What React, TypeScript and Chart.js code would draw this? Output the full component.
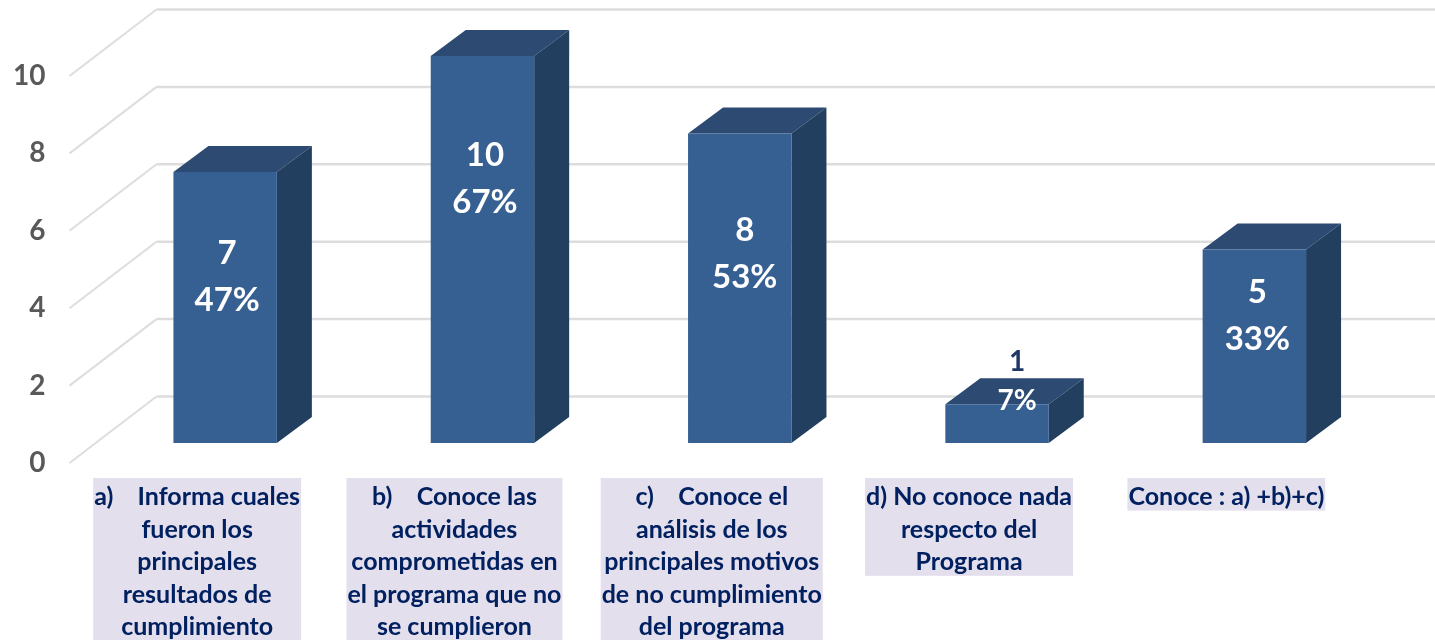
import React, { useEffect, useRef } from "react";
import { Chart, registerables } from "chart.js";

Chart.register(...registerables);

const categories: string[][] = [
  ["a)    Informa cuales", "fueron los", "principales", "resultados de", "cumplimiento"],
  ["b)    Conoce las", "actividades", "comprometidas en", "el programa que no", "se cumplieron"],
  ["c)    Conoce el", "análisis de los", "principales motivos", "de no cumplimiento", "del programa"],
  ["d) No conoce nada", "respecto del", "Programa"],
  ["Conoce : a) +b)+c)"],
];
const counts = [7, 10, 8, 1, 5];
const percents = ["47%", "67%", "53%", "7%", "33%"];
// Height on the value axis where each two-line label is centred
const labelLevels = [4.29, 6.83, 4.9, 1.58, 3.28];
const yTicks = [0, 2, 4, 6, 8, 10];

const FONT = "Lato, Carlito, sans-serif";
const NAVY = "#002060";
const BAR_FRONT = "#376092";
const BAR_TOP = "#2C4A72";
const BAR_SIDE = "#223F60";
const GRID = "#DDDDDD";
const LABEL_BG = "#E4DFEC";
const CATEGORY_FONT = { family: FONT, weight: "bold", size: 25, lineHeight: "32.5px" };
const BAR_SHIFT = { x: 28, y: -20 };
const BAR_DEPTH = { x: 35, y: -26 };
const WALL = { x: 87, y: -66.5 };
const LABEL_NUDGE = [2, 2.5, 5, 20, 3];

const backdropPlugin = {
  id: "labelBackdrop",
  beforeDraw(chart: any) {
    const { ctx, scales, chartArea } = chart;
    ctx.save();
    ctx.font = `bold ${CATEGORY_FONT.size}px ${FONT}`;
    ctx.fillStyle = LABEL_BG;
    categories.forEach((lines, i) => {
      const w = Math.max(...lines.map((t) => ctx.measureText(t).width)) + 2;
      const cx = scales.x.getPixelForTick(i);
      ctx.fillRect(cx - w / 2, chartArea.bottom + 15, w, lines.length * 32.6);
    });
    ctx.restore();
  },
};

const wallPlugin = {
  id: "wall",
  beforeDatasetsDraw(chart: any) {
    const { ctx, scales, width } = chart;
    const y = scales.y;
    const x0 = chart.chartArea.left + 1;
    ctx.save();
    ctx.strokeStyle = GRID;
    for (const v of yTicks) {
      const py = y.getPixelForValue(v);
      ctx.lineWidth = 2;
      ctx.beginPath();
      ctx.moveTo(x0, py);
      ctx.lineTo(x0 + WALL.x, py + WALL.y);
      ctx.stroke();
      ctx.lineWidth = 2.5;
      ctx.beginPath();
      ctx.moveTo(x0 + WALL.x, py + WALL.y);
      ctx.lineTo(width, py + WALL.y);
      ctx.stroke();
    }
    ctx.restore();
  },
};

const bar3dPlugin = {
  id: "bar3d",
  beforeDatasetDraw(chart: any, args: any) {
    const { ctx } = chart;
    ctx.save();
    ctx.translate(BAR_SHIFT.x, BAR_SHIFT.y);
    for (const el of args.meta.data) {
      const { x, y, base, width } = el.getProps(["x", "y", "base", "width"], true);
      const l = x - width / 2;
      const r = x + width / 2;
      ctx.fillStyle = BAR_TOP;
      ctx.beginPath();
      ctx.moveTo(l, y);
      ctx.lineTo(l + BAR_DEPTH.x, y + BAR_DEPTH.y);
      ctx.lineTo(r + BAR_DEPTH.x, y + BAR_DEPTH.y);
      ctx.lineTo(r, y);
      ctx.closePath();
      ctx.fill();
      ctx.fillStyle = BAR_SIDE;
      ctx.beginPath();
      ctx.moveTo(r, y);
      ctx.lineTo(r + BAR_DEPTH.x, y + BAR_DEPTH.y);
      ctx.lineTo(r + BAR_DEPTH.x, base + BAR_DEPTH.y);
      ctx.lineTo(r, base);
      ctx.closePath();
      ctx.fill();
    }
  },
  afterDatasetDraw(chart: any) {
    chart.ctx.restore();
  },
};

const valueLabelPlugin = {
  id: "valueLabels",
  afterDatasetsDraw(chart: any) {
    const { ctx, scales } = chart;
    const meta = chart.getDatasetMeta(0);
    ctx.save();
    ctx.textAlign = "center";
    ctx.textBaseline = "middle";
    meta.data.forEach((el: any, i: number) => {
      const small = counts[i] < 2;
      const cx = el.x + BAR_SHIFT.x + LABEL_NUDGE[i];
      const cy = scales.y.getPixelForValue(labelLevels[i]) + BAR_SHIFT.y;
      const gap = small ? 19.5 : 23.5;
      ctx.font = `bold ${small ? 28 : 33}px ${FONT}`;
      ctx.fillStyle = small ? "#1F3864" : "#FFFFFF";
      ctx.fillText(String(counts[i]), cx, cy - gap);
      ctx.fillStyle = "#FFFFFF";
      ctx.fillText(percents[i], cx, cy + gap);
    });
    ctx.restore();
  },
};

export default function App() {
  const ref = useRef<HTMLCanvasElement>(null);
  useEffect(() => {
    const chart = new Chart(ref.current as HTMLCanvasElement, {
      type: "bar",
      data: {
        labels: categories as any,
        datasets: [
          {
            data: counts,
            backgroundColor: BAR_FRONT,
            borderWidth: 0,
            categoryPercentage: 1,
            barPercentage: 0.402,
            clip: false as any,
          },
        ],
      },
      options: {
        animation: false,
        responsive: false,
        layout: { padding: { top: 76, left: 0, right: 80, bottom: 0 } },
        plugins: { legend: { display: false }, tooltip: { enabled: false } },
        scales: {
          x: {
            grid: { display: false },
            border: { display: false },
            afterFit(s: any) {
              s.height = 177;
            },
            ticks: {
              autoSkip: false,
              maxRotation: 0,
              minRotation: 0,
              padding: 10,
              color: NAVY,
              font: CATEGORY_FONT,
            } as any,
          },
          y: {
            min: 0,
            max: 10,
            grid: { display: false },
            border: { display: false },
            afterFit(s: any) {
              s.width = 68.5;
            },
            ticks: {
              stepSize: 2,
              padding: 15,
              color: "#595959",
              font: { family: FONT, weight: "bold", size: 28 },
            },
          },
        },
      },
      plugins: [backdropPlugin, wallPlugin, bar3dPlugin, valueLabelPlugin],
    });
    return () => chart.destroy();
  }, []);
  return (
    <div style={{ position: "fixed", left: 0, top: 0, width: 1435, height: 640, background: "#fff", overflow: "hidden" }}>
      <canvas ref={ref} width={1435} height={640} style={{ display: "block" }} />
    </div>
  );
}
